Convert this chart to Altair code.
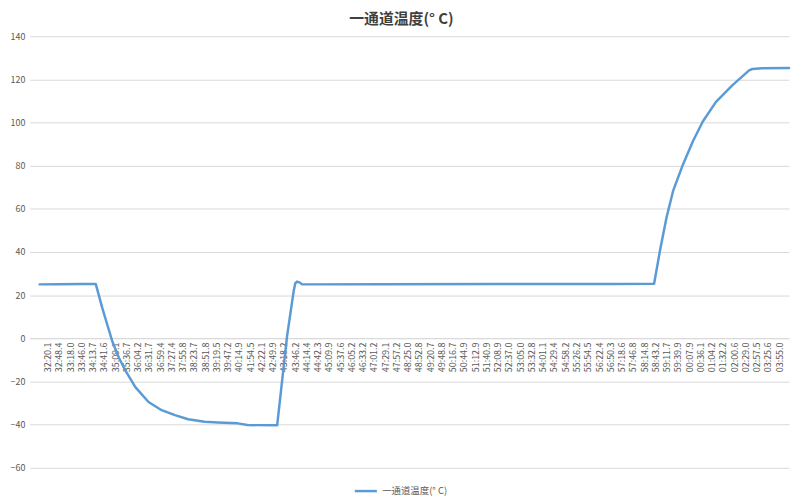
import altair as alt
import pandas as pd

series_name = "一通道温度(° C)"

tick_labels = [
    "32:20.1", "32:48.4", "33:18.0", "33:46.0", "34:13.7", "34:41.6", "35:09.1", "35:36.7",
    "36:04.2", "36:31.7", "36:59.4", "37:27.4", "37:55.8", "38:23.7", "38:51.8", "39:19.5",
    "39:47.2", "40:14.9", "41:54.5", "42:22.1", "42:49.9", "43:18.2", "43:46.2", "44:14.4",
    "44:42.3", "45:09.9", "45:37.6", "46:05.2", "46:33.2", "47:01.2", "47:29.1", "47:57.2",
    "48:25.0", "48:52.8", "49:20.7", "49:48.8", "50:16.7", "50:44.9", "51:12.9", "51:40.9",
    "52:08.9", "52:37.0", "53:05.0", "53:32.8", "54:01.1", "54:29.4", "54:58.2", "55:26.2",
    "55:54.5", "56:22.4", "56:50.3", "57:18.6", "57:46.8", "58:14.8", "58:43.2", "59:11.7",
    "59:39.9", "00:07.9", "00:36.1", "01:04.2", "01:32.2", "02:00.6", "02:29.0", "02:57.5",
    "03:25.6", "03:55.0",
]

# sample position measured in category-label units (0 = first label)
sample_pos = [
    -0.70, 1.0, 3.0, 4.28, 4.86, 5.30, 5.74, 6.33, 6.92, 7.80, 8.97, 10.14, 11.32,
    12.49, 13.96, 15.13, 16.89, 17.77, 20.40, 21.28, 21.87, 22.01, 22.16, 22.43, 22.60,
    30.0, 40.0, 50.0, 53.89, 54.42, 55.00, 55.58, 56.46, 57.34, 58.22, 59.39, 60.86,
    62.33, 62.62, 63.5, 65.88,
]
temperature = [
    25.0, 25.1, 25.2, 25.2, 14.1, 6.4, -1.2, -8.9, -15.0, -22.6, -29.5, -33.3, -35.6,
    -37.5, -38.7, -39.0, -39.4, -40.2, -40.3, 1.0, 22.0, 25.5, 26.3, 25.8, 25.0,
    25.1, 25.2, 25.2, 25.3, 40.8, 56.1, 68.3, 80.6, 91.3, 100.5, 109.6, 117.3,
    124.2, 124.8, 125.2, 125.3,
]

df = pd.DataFrame({"pos": sample_pos, "temp": temperature, "series": series_name})

label_js = "[" + ",".join("'" + t + "'" for t in tick_labels) + "]"

font = "Noto Sans CJK SC"
gray_text = "#595959"
grid = "#d9d9d9"

chart = (
    alt.Chart(df)
    .mark_line(strokeWidth=2.5, strokeCap="round", strokeJoin="round")
    .encode(
        x=alt.X(
            "pos:Q",
            scale=alt.Scale(domain=[-1.58, 65.88], nice=False, zero=False),
            axis=alt.Axis(
                values=list(range(len(tick_labels))),
                labelExpr=label_js + "[datum.value]",
                labelAngle=270,
                labelAlign="right",
                labelBaseline="middle",
                labelFontSize=9,
                labelColor=gray_text,
                labelFont=font,
                labelPadding=4,
                labelOverlap=False,
                ticks=False,
                grid=False,
                domain=True,
                domainColor=grid,
                offset=-131,
                title=None,
            ),
        ),
        y=alt.Y(
            "temp:Q",
            scale=alt.Scale(domain=[-60, 140], nice=False),
            axis=alt.Axis(
                values=list(range(-60, 141, 20)),
                labelFontSize=9,
                labelColor=gray_text,
                labelFont=font,
                labelPadding=5,
                ticks=False,
                domain=False,
                gridColor=grid,
                title=None,
            ),
        ),
        color=alt.Color(
            "series:N",
            scale=alt.Scale(range=["#5B9BD5"]),
            legend=alt.Legend(
                title=None,
                orient="none",
                legendX=327,
                legendY=447,
                symbolType="stroke",
                symbolStrokeWidth=2.5,
                symbolSize=500,
                labelFontSize=9.5,
                labelColor=gray_text,
                labelFont=font,
            ),
        ),
    )
    .properties(
        width=767,
        height=436,
        autosize=alt.AutoSizeParams(type="none"),
        padding={"left": 22, "top": 26, "right": 3, "bottom": 28},
        title=alt.TitleParams(
            series_name,
            fontSize=15,
            font=font,
            fontWeight=600,
            color="#404040",
            offset=5,
            dx=-8,
        ),
    )
    .configure_view(stroke=None)
)

chart.save("out.html", embed_options={"renderer": "svg", "actions": False})
